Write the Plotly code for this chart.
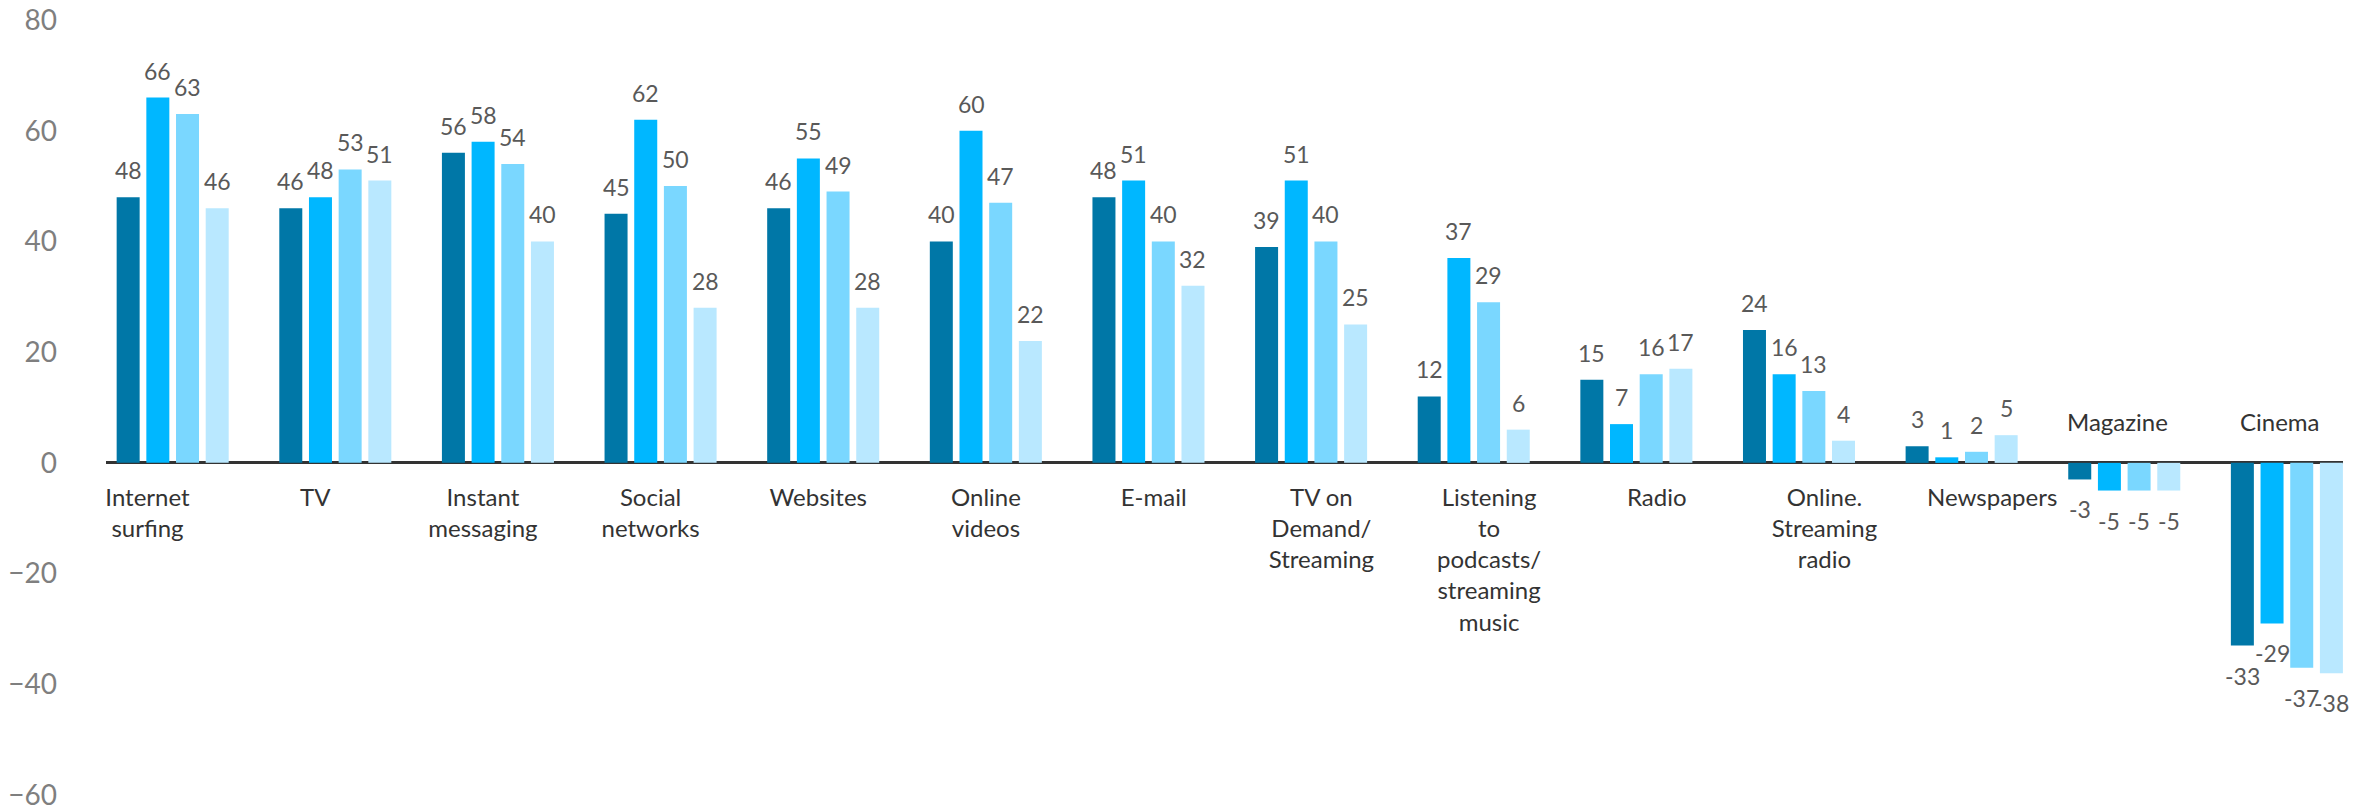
import plotly.graph_objects as go

# Media usage, four survey waves per category
categories = [
    "Internet surfing", "TV", "Instant messaging", "Social networks", "Websites",
    "Online videos", "E-mail", "TV on Demand/Streaming",
    "Listening to podcasts/streaming music", "Radio", "Online. Streaming radio",
    "Newspapers", "Magazine", "Cinema",
]
category_labels = [
    "Internet<br>surfing", "TV", "Instant<br>messaging", "Social<br>networks", "Websites",
    "Online<br>videos", "E-mail", "TV on<br>Demand/<br>Streaming",
    "Listening<br>to<br>podcasts/<br>streaming<br>music", "Radio",
    "Online.<br>Streaming<br>radio", "Newspapers", "Magazine", "Cinema",
]
wave_1 = [48, 46, 56, 45, 46, 40, 48, 39, 12, 15, 24, 3, -3, -33]
wave_2 = [66, 48, 58, 62, 55, 60, 51, 51, 37, 7, 16, 1, -5, -29]
wave_3 = [63, 53, 54, 50, 49, 47, 40, 40, 29, 16, 13, 2, -5, -37]
wave_4 = [46, 51, 40, 28, 28, 22, 32, 25, 6, 17, 4, 5, -5, -38]
y_ticks = [-60, -40, -20, 0, 20, 40, 60, 80]

series = [
    ("Wave 1", wave_1, "#0077a7"),
    ("Wave 2", wave_2, "#00b7ff"),
    ("Wave 3", wave_3, "#7ad7ff"),
    ("Wave 4", wave_4, "#b9e8ff"),
]

FONT = "Lato, 'Open Sans', sans-serif"
BARGAP = 0.27
BARGROUPGAP = 0.225
slot = (1 - BARGAP) / len(series)

x_idx = list(range(len(categories)))

fig = go.Figure()
annotations = []
for k, (name, vals, color) in enumerate(series):
    fig.add_trace(go.Bar(
        x=x_idx, y=vals, name=name, marker=dict(color=color, line=dict(width=0)),
        hovertext=categories, showlegend=False,
    ))
    offset = (k - (len(series) - 1) / 2) * slot
    for j, v in enumerate(vals):
        annotations.append(dict(
            x=j + offset, y=v, xref="x", yref="y", text=str(v), showarrow=False,
            yanchor="bottom" if v >= 0 else "top",
            yshift=11 if v >= 0 else -14,
            font=dict(family=FONT, size=23, color="#595959"),
        ))

# Labels for categories whose bars go below zero sit above the baseline
for j, (lab, v) in enumerate(zip(category_labels, wave_1)):
    if v < 0:
        annotations.append(dict(
            x=j - 0.04, y=0, xref="x", yref="y", text=lab, showarrow=False,
            yanchor="bottom", yshift=25,
            font=dict(family=FONT, size=24, color="#333333"),
        ))

pos_idx = [j for j, v in enumerate(wave_1) if v >= 0]

# Empty trace that attaches the category-name axis to the plot
fig.add_trace(go.Scatter(
    x=[None], y=[None], xaxis="x2", yaxis="y", mode="markers",
    showlegend=False, hoverinfo="skip",
))

fig.update_layout(
    width=2374, height=807,
    margin=dict(l=106, r=31, t=20, b=12, autoexpand=False),
    paper_bgcolor="white", plot_bgcolor="white",
    barmode="group", bargap=BARGAP, bargroupgap=BARGROUPGAP,
    annotations=annotations,
    xaxis=dict(
        range=[-0.41, 13.345], showticklabels=False, showgrid=False,
        zeroline=False, showline=False, ticks="", automargin=False,
    ),
    # Category names hang below the zero line on their own evenly spaced scale
    xaxis2=dict(
        overlaying="x", anchor="free", position=(0 - (-60)) / (80 - (-60)),
        side="bottom", range=[-0.2475, 13.092],
        tickmode="array", tickvals=pos_idx,
        ticktext=[category_labels[j] for j in pos_idx],
        showgrid=False, zeroline=False, showline=False, ticks="",
        ticklabelstandoff=18, ticklabeloverflow="allow", automargin=False,
        tickfont=dict(family=FONT, size=24, color="#333333"),
    ),
    yaxis=dict(
        range=[-60, 80], tickvals=y_ticks, showgrid=False,
        zeroline=True, zerolinecolor="#333333", zerolinewidth=3,
        showline=False, ticks="", ticklabelstandoff=48,
        ticklabeloverflow="allow", automargin=False,
        tickfont=dict(family=FONT, size=28, color="#7f7f7f"),
    ),
)

fig.write_html("out.html")
